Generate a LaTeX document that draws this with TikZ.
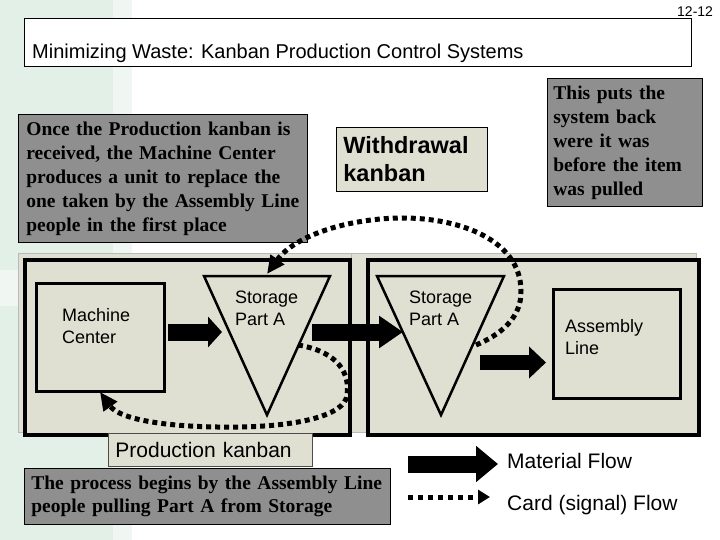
\documentclass[tikz,border=0pt]{standalone}
\usepackage{fontspec}
\setmainfont{Liberation Serif}
\newfontfamily\arial{Liberation Sans}
\usetikzlibrary{arrows.meta}
\definecolor{bggreen}{RGB}{227,240,231}
\definecolor{bglight}{RGB}{240,247,242}
\definecolor{beige}{RGB}{224,224,210}
\definecolor{boxgray}{RGB}{143,143,143}
\begin{document}
\begin{tikzpicture}[x=1pt,y=-1pt,
  graybox/.style={draw=black, line width=0.8pt, fill=boxgray, font=\fontsize{19.5}{24}\selectfont\bfseries, align=left, inner ysep=0pt, anchor=north west},
  beigebox/.style={draw=black, line width=0.8pt, fill=beige, align=left, inner ysep=0pt, anchor=north west},
  panelbg/.style={draw=gray!55, line width=0.8pt, fill=beige, anchor=north west, inner sep=0pt},
  panel/.style={draw=black, line width=3.5pt, fill=beige, anchor=north west, inner sep=0pt},
  station/.style={draw=black, line width=3pt, fill=beige, anchor=north west, inner sep=0pt},
  lbl/.style={font=\arial\fontsize{18}{22}\selectfont, align=left, inner sep=0pt, anchor=west},
  tri/.style={draw=black, line width=2.5pt, fill=beige},
  card/.style={line width=5pt, dash pattern=on 5pt off 4pt, -{Triangle[length=18pt,width=16pt]}},
  fat/.style={line width=17pt, draw=black}
]
\useasboundingbox (0,0) rectangle (720,540);
% background
\fill[white] (0,0) rectangle (720,540);
\fill[bggreen] (0,0) rectangle (113,540);
\fill[bglight] (113,0) rectangle (132,540);
\fill[bglight] (0,270) rectangle (18,306);

% title
\node[draw=black, line width=0.8pt, fill=white, anchor=north west, inner sep=0pt, minimum width=667pt, minimum height=48pt] (titlebox) at (24,18) {};
\node[anchor=base west, inner sep=0pt, font=\arial\fontsize{20}{24}\selectfont] (title) at (32,59) {Minimizing Waste: Kanban Production Control Systems};
\node[anchor=base west, inner sep=0pt, font=\arial\fontsize{14}{16}\selectfont] (pagenum) at (677,17) {12-12};

% notes
\node[graybox, minimum width=289pt, minimum height=128pt, text width=273pt, inner xsep=8pt] (note1) at (18,114)
  {\mbox{Once the Production kanban is}\\\mbox{received, the Machine Center}\\\mbox{produces a unit to replace the}\\\mbox{one taken by the Assembly Line}\\\mbox{people in the first place}};
\node[graybox, minimum width=155pt, minimum height=128pt, text width=143pt, inner xsep=6pt] (note2) at (547,78)
  {\mbox{This puts the}\\\mbox{system back}\\\mbox{were it was}\\\mbox{before the item}\\\mbox{was pulled}};
\node[beigebox, minimum width=151pt, minimum height=64pt, text width=137pt, inner xsep=7pt, font=\arial\bfseries\fontsize{23.5}{28}\selectfont] (wk) at (336,127)
  {Withdrawal\\kanban};

% panels
\node[panelbg, minimum width=346pt, minimum height=179pt] (bgl) at (18,253) {};
\node[panelbg, minimum width=345pt, minimum height=179pt] (bgr) at (351,253) {};
\node[panel, minimum width=325pt, minimum height=175pt] (pl) at (23,258) {};
\node[panel, minimum width=331pt, minimum height=175pt] (pr) at (366,258) {};

% stations
\node[station, minimum width=128pt, minimum height=108pt] (mc) at (35,282) {};
\node[lbl] (mctext) at (62,326) {Machine\\Center};
\node[station, minimum width=127pt, minimum height=109pt] (al) at (552,288) {};
\node[lbl] (altext) at (565,337.5) {Assembly\\Line};

\coordinate (t1a) at (204,276); \coordinate (t1b) at (330,276); \coordinate (t1c) at (267,415);
\coordinate (t2a) at (377,276); \coordinate (t2b) at (504,276); \coordinate (t2c) at (441,415);
\draw[tri] (t1a) -- (t1b) -- (t1c) -- cycle;
\draw[tri] (t2a) -- (t2b) -- (t2c) -- cycle;
\node[lbl] (s1text) at (235,308) {Storage\\Part A};
\node[lbl] (s2text) at (409,308) {Storage\\Part A};

% material flow arrows
\coordinate (m1s) at (168,332); \coordinate (m1e) at (222,332);
\coordinate (m2s) at (312,332); \coordinate (m2e) at (403,332);
\coordinate (m3s) at (480,362.5); \coordinate (m3e) at (546,362.5);
\draw[fat, -{Triangle[length=14pt,width=30pt]}] (m1s) -- (m1e);
\draw[fat, -{Triangle[length=24pt,width=31pt]}] (m2s) -- (m2e);
\draw[fat, line width=15pt, -{Triangle[length=17pt,width=31pt]}] (m3s) -- (m3e);

% card flows
\coordinate (w0) at (476,345); \coordinate (w1) at (521,290);
\coordinate (w2) at (403,218); \coordinate (w3) at (267,274);
\draw[card] (w0) .. controls (500,335) and (522,318) .. (w1)
  .. controls (520,240) and (460,218) .. (w2)
  .. controls (350,218) and (295,235) .. (w3);
\coordinate (p0) at (298,345); \coordinate (p1) at (347,395);
\coordinate (p2) at (240,427); \coordinate (p3) at (100,392);
\draw[card] (p0) .. controls (340,352) and (350,375) .. (p1)
  .. controls (345,415) and (300,426) .. (p2)
  .. controls (170,428) and (120,420) .. (p3);

% bottom
\node[beigebox, draw=gray!60!black, minimum width=204pt, minimum height=33pt, text width=190pt, inner xsep=7pt, font=\arial\fontsize{21}{24}\selectfont] (pk) at (108,433)
  {Production kanban};
\node[graybox, minimum width=366pt, minimum height=56pt, text width=352pt, inner xsep=7pt, font=\fontsize{19.5}{23}\selectfont\bfseries] (note3) at (24,468)
  {\mbox{The process begins by the Assembly Line}\\\mbox{people pulling Part A from Storage}};

% legend
\coordinate (lm0) at (408,464); \coordinate (lm1) at (498,464);
\draw[fat, -{Triangle[length=22pt,width=35pt]}] (lm0) -- (lm1);
\node[anchor=base west, inner sep=0pt, font=\arial\fontsize{21}{24}\selectfont] (lmt) at (507,468) {Material Flow};
\coordinate (lc0) at (408,497); \coordinate (lc1) at (490,497);
\draw[card, dash pattern=on 5pt off 5pt, -{Triangle[length=12pt,width=14pt]}] (lc0) -- (lc1);
\node[anchor=base west, inner sep=0pt, font=\arial\fontsize{21}{24}\selectfont] (lct) at (507,510) {Card (signal) Flow};
\end{tikzpicture}
\end{document}
